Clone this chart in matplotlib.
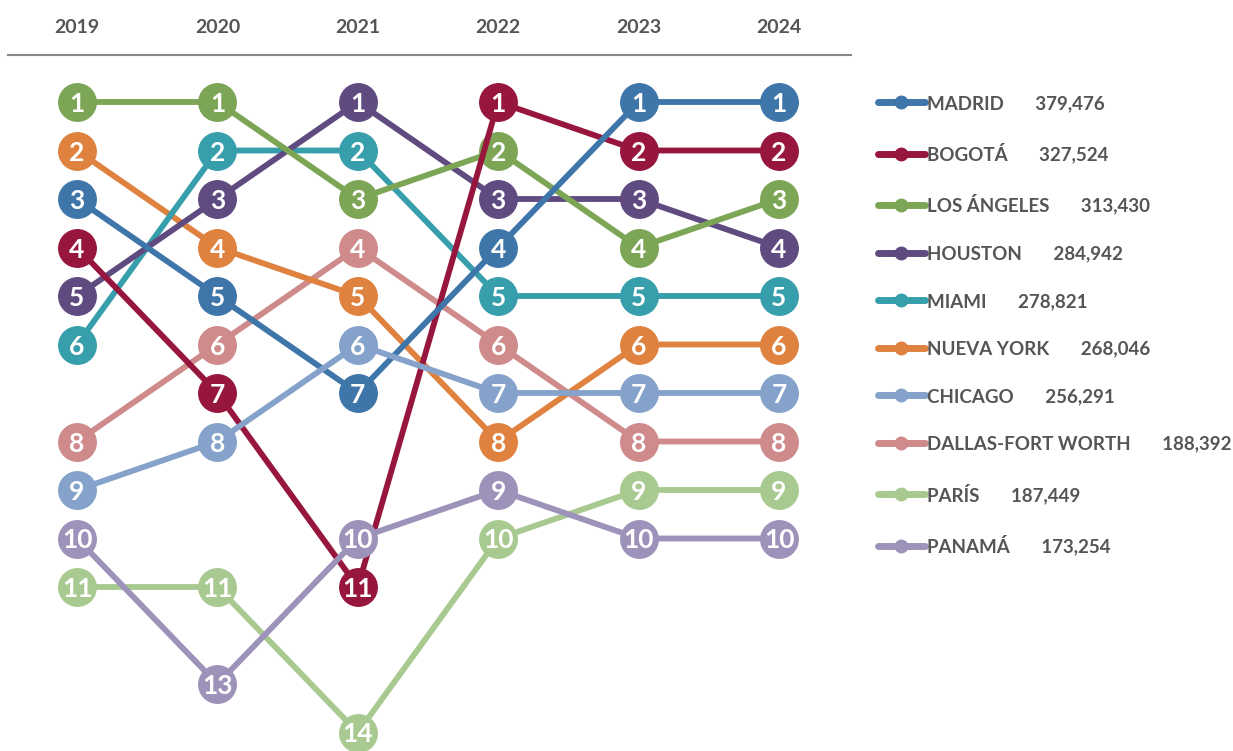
import matplotlib.pyplot as plt
from matplotlib.lines import Line2D

years = ['2019', '2020', '2021', '2022', '2023', '2024']
cities = ['MADRID', 'BOGOTÁ', 'LOS ÁNGELES', 'HOUSTON', 'MIAMI',
          'NUEVA YORK', 'CHICAGO', 'DALLAS-FORT WORTH', 'PARÍS', 'PANAMÁ']
totals = ['379,476', '327,524', '313,430', '284,942', '278,821',
          '268,046', '256,291', '188,392', '187,449', '173,254']
colors = ['#3f76aa', '#97163d', '#7da556', '#5f4b80', '#379eac',
          '#df8240', '#84a2ca', '#cf8a8b', '#a8c98f', '#9d92b9']

madrid = [3, 5, 7, 4, 1, 1]
bogota = [4, 7, 11, 1, 2, 2]
los_angeles = [1, 1, 3, 2, 4, 3]
houston = [5, 3, 1, 3, 3, 4]
miami = [6, 2, 2, 5, 5, 5]
nueva_york = [2, 4, 5, 8, 6, 6]
chicago = [9, 8, 6, 7, 7, 7]
dallas = [8, 6, 4, 6, 8, 8]
paris = [11, 11, 14, 10, 9, 9]
panama = [10, 13, 10, 9, 10, 10]
ranks = [madrid, bogota, los_angeles, houston, miami,
         nueva_york, chicago, dallas, paris, panama]

plt.rcParams['font.family'] = ['Lato', 'DejaVu Sans']
txt_color = '#555555'

fig = plt.figure(figsize=(12.33, 7.51), dpi=100)
W, H = 1233, 751
ax = fig.add_axes([8 / W, 0, 843 / W, 1 - 55 / H])

x = list(range(len(years)))
# drawing order (last on top)
order = [8, 7, 5, 4, 3, 2, 1, 9, 0, 6]
for z, i in enumerate(order):
    ax.plot(x, ranks[i], color=colors[i], lw=4.2, marker='o', ms=27,
            solid_capstyle='round', zorder=2 + z)
    for xi, r in zip(x, ranks[i]):
        ax.text(xi, r, str(r), color='white', fontsize=19, fontweight='bold',
                ha='center', va='center_baseline', zorder=2 + z)

px_per_x = 702 / 5
px_per_y = 48.5
xmin = -(77 - 8) / px_per_x
ax.set_xlim(xmin, xmin + 843 / px_per_x)
ytop = 1 - (102 - 55) / px_per_y
ax.set_ylim(ytop + 696 / px_per_y, ytop)

ax.set_xticks(x)
ax.set_xticklabels(years)
ax.set_yticks([])
ax.tick_params(axis='x', top=True, labeltop=True, bottom=False,
               labelbottom=False, length=0, pad=14, labelsize=14,
               labelcolor=txt_color)
for lbl in ax.get_xticklabels():
    lbl.set_fontweight('bold')
for s in ['left', 'right', 'bottom']:
    ax.spines[s].set_visible(False)
ax.spines['top'].set_color('#888888')
ax.spines['top'].set_linewidth(1.5)

handles = [Line2D([], [], color=c, lw=5, marker='o', ms=9, solid_capstyle='round')
           for c in colors]
labels = [f'{n}       {t}' for n, t in zip(cities, totals)]
leg = fig.legend(handles, labels, loc='upper left',
                 bbox_to_anchor=(878 / W, 1 - 95 / H), frameon=False,
                 borderpad=0, borderaxespad=0, handlelength=2.5,
                 handletextpad=0.12, labelspacing=1.63,
                 prop={'size': 13.5, 'weight': 'bold'}, labelcolor=txt_color)

fig.savefig('out.png', dpi=100)
